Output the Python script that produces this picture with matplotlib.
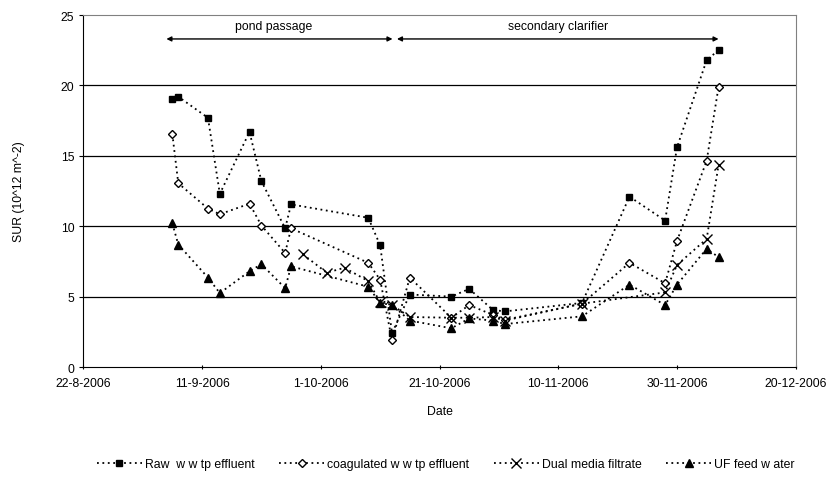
import matplotlib; matplotlib.use("Agg")
import matplotlib.pyplot as plt
import matplotlib.dates as mdates
import pandas as pd

plt.rcParams['font.family'] = ['Liberation Sans', 'DejaVu Sans']
FS = 8.8

# sampling dates (all series except dual media filtrate)
dates = pd.to_datetime([
    "2006-09-06", "2006-09-07", "2006-09-12", "2006-09-14", "2006-09-19", "2006-09-21",
    "2006-09-25", "2006-09-26", "2006-10-09", "2006-10-11", "2006-10-13", "2006-10-16",
    "2006-10-23", "2006-10-26", "2006-10-30", "2006-11-01", "2006-11-14", "2006-11-22",
    "2006-11-28", "2006-11-30", "2006-12-05", "2006-12-07"])
dates_dmf = pd.to_datetime([
    "2006-09-28", "2006-10-02", "2006-10-05", "2006-10-09", "2006-10-11", "2006-10-13",
    "2006-10-16", "2006-10-23", "2006-10-26", "2006-10-30", "2006-11-01", "2006-11-14",
    "2006-11-28", "2006-11-30", "2006-12-05", "2006-12-07"])

raw_sur = [19.0, 19.2, 17.7, 12.3, 16.7, 13.2, 9.85, 11.55, 10.6, 8.65, 2.4, 5.15,
           5.0, 5.55, 4.05, 3.95, 4.55, 12.1, 10.4, 15.6, 21.8, 22.5]
coag_sur = [16.55, 13.05, 11.25, 10.85, 11.6, 10.05, 8.1, 9.85, 7.4, 6.2, 1.9, 6.35,
            3.5, 4.4, 3.7, 3.35, 4.5, 7.4, 5.95, 8.95, 14.65, 19.9]
dmf_sur = [8.0, 6.7, 7.05, 6.1, 4.6, 4.4, 3.55, 3.5, 3.5, 3.55, 3.3, 4.5,
           5.3, 7.25, 9.1, 14.35]
uf_sur = [10.2, 8.7, 6.35, 5.25, 6.8, 7.3, 5.6, 7.15, 5.7, 4.55, 4.4, 3.3,
          2.75, 3.45, 3.3, 3.05, 3.6, 5.85, 4.4, 5.85, 8.4, 7.8]

labels = ["Raw  w w tp effluent", "coagulated w w tp effluent",
          "Dual media filtrate", "UF feed w ater"]

fig = plt.figure(figsize=(8.27, 4.81), dpi=100)
ax = fig.add_axes([0.1007, 0.2349, 0.8615, 0.7318])

ls = (0, (1, 2))
ax.plot(dates, raw_sur, color="black", ls=ls, lw=1.3, marker="s", ms=5,
        mfc="black", mec="black", label=labels[0], zorder=3)
ax.plot(dates, coag_sur, color="black", ls=ls, lw=1.3, marker="D", ms=4,
        mfc="white", mec="black", mew=1.0, label=labels[1], zorder=3)
ax.plot(dates_dmf, dmf_sur, color="black", ls=ls, lw=1.3, marker="x", ms=7,
        mew=1.0, label=labels[2], zorder=3)
ax.plot(dates, uf_sur, color="black", ls=ls, lw=1.3, marker="^", ms=6,
        mfc="black", mec="black", label=labels[3], zorder=3)

# axes
ax.set_xlim(pd.Timestamp("2006-08-22"), pd.Timestamp("2006-12-20"))
ax.set_ylim(0, 25)
ax.set_yticks([0, 5, 10, 15, 20, 25])
ax.set_xticks(pd.date_range("2006-08-22", "2006-12-20", freq="20D"))
ax.xaxis.set_major_formatter(plt.FuncFormatter(
    lambda v, p: "{0.day}-{0.month}-{0.year}".format(mdates.num2date(v))))
ax.tick_params(axis="both", labelsize=FS, length=3, width=0.8)
ax.tick_params(axis="x", direction="inout", pad=6)
ax.tick_params(axis="y", direction="out")
for y in [5, 10, 15, 20]:
    ax.axhline(y, color="black", lw=0.9, zorder=1)
for s in ["left", "bottom"]:
    ax.spines[s].set_color("black")
for s in ["top", "right"]:
    ax.spines[s].set_color("#808080")
ax.set_xlabel("Date", fontsize=FS, labelpad=11)
ax.set_ylabel("SUR (10^12 m^-2)", fontsize=FS, labelpad=26)

# period annotations
arr = dict(arrowstyle="<|-|>", color="black", lw=1.0, mutation_scale=7,
           shrinkA=0, shrinkB=0)
ax.annotate("", xy=(pd.Timestamp("2006-09-05"), 23.3),
            xytext=(pd.Timestamp("2006-10-13 02:00"), 23.3), arrowprops=arr)
ax.annotate("", xy=(pd.Timestamp("2006-10-13 20:00"), 23.3),
            xytext=(pd.Timestamp("2006-12-07"), 23.3), arrowprops=arr)
ax.text(pd.Timestamp("2006-09-23"), 24.25, "pond passage", fontsize=FS,
        ha="center", va="center")
ax.text(pd.Timestamp("2006-11-10"), 24.25, "secondary clarifier", fontsize=FS,
        ha="center", va="center")

fig.legend(loc="center", bbox_to_anchor=(0.539, 0.033), ncol=4, frameon=False,
           fontsize=FS, handlelength=3.7, columnspacing=2.0, handletextpad=0.25)

fig.savefig("out.png", dpi=100)
